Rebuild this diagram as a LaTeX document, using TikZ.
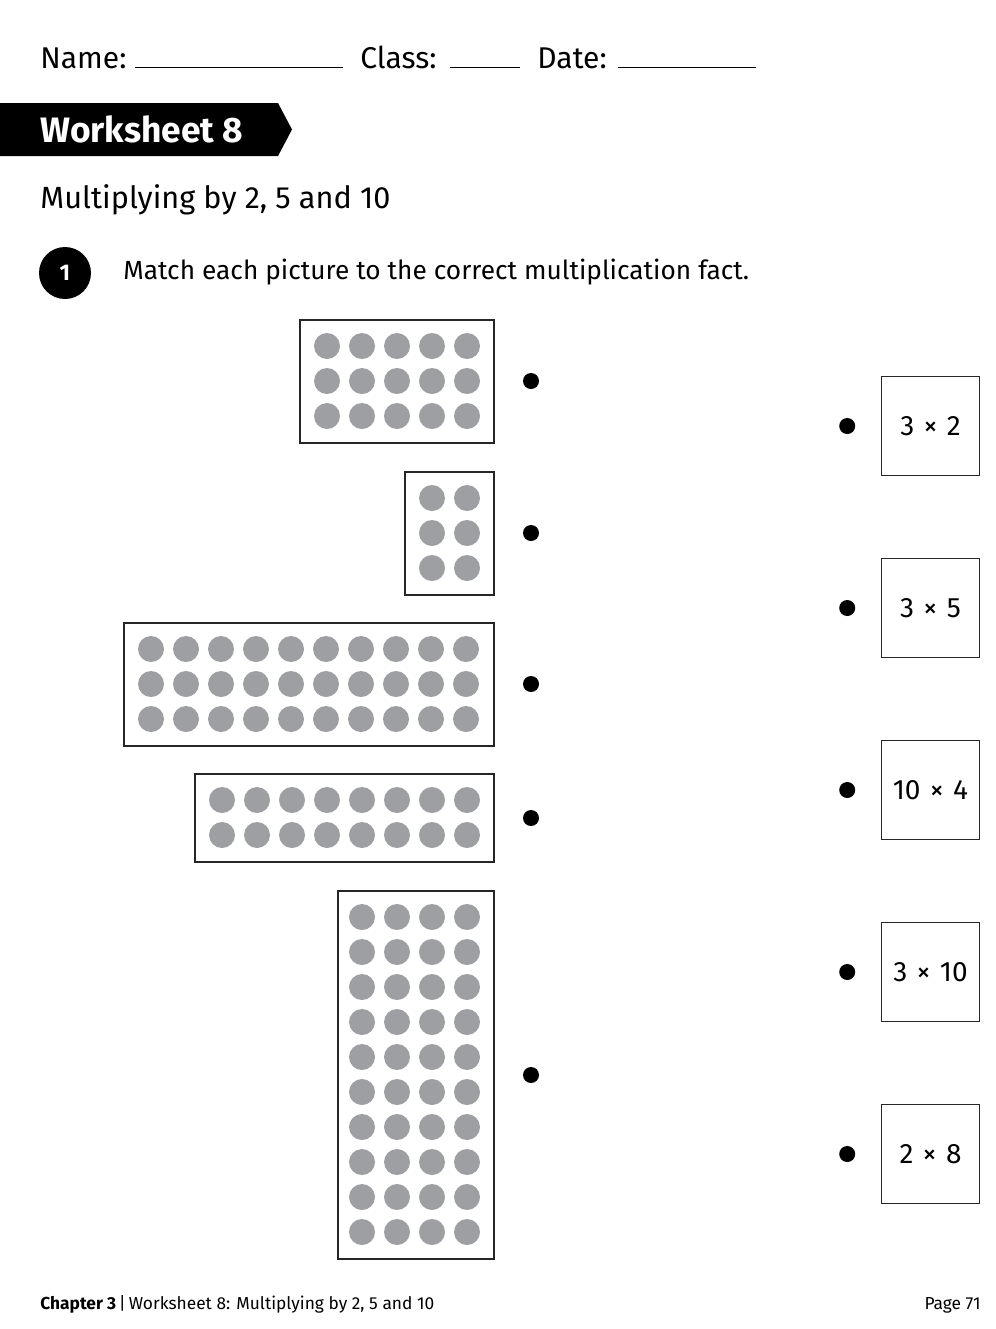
\documentclass[tikz,border=0pt]{standalone}
\usepackage{fontspec}
\setmainfont{Fira Sans}
\usepackage{tikz}
\usetikzlibrary{positioning}
\usetikzlibrary{shapes.misc}
\definecolor{dotgray}{RGB}{158,159,163}

\begin{document}
\begin{tikzpicture}[
            x = 0.75pt, y = -0.75pt, % one unit is one pixel of the page
            node distance = 136.5pt, % distance between fact boxes
            semithick % line style
        ]

        \tikzstyle{dot}=[circle, fill=dotgray, draw=none, minimum size=19.5pt, inner sep=0pt]
        \tikzstyle{blob}=[circle, fill=black, draw=none, minimum size=12pt, inner sep=0pt]
        \tikzstyle{frame}=[draw=black!85, thick]
        \tikzstyle{fact}=[draw=black!85, thick, minimum size=74pt, inner sep=0pt, font=\fontsize{21}{21}\selectfont]
        \tikzstyle{field}=[anchor=base west, inner sep=0pt, font=\fontsize{22.5}{22.5}\selectfont]

        \useasboundingbox (0,0) rectangle (996,1329);

        % header
        \node[field] (name) at (40,68) {Name:};
        \node[field] (class) at (360,68) {Class:};
        \node[field] (date) at (537,68) {Date:};
        \draw (135,67) -- (343,67);
        \draw (450,67) -- (520,67);
        \draw (618,67) -- (756,67);

        \fill (0,103) -- (278,103) -- (292,129.5) -- (278,156) -- (0,156) -- cycle;
        \node[anchor=west, inner sep=0pt, text=white, font=\fontsize{26.5}{26.5}\selectfont\bfseries] (title) at (40,129.5) {Worksheet 8};
        \node[anchor=west, inner sep=0pt, font=\fontsize{23}{23}\selectfont] (topic) at (40,200) {Multiplying by 2, 5 and 10};

        \node[circle, fill=black, minimum size=39pt, inner sep=0pt, text=white, font=\fontsize{17}{17}\selectfont\bfseries] (Q1) at (65,273) {1};
        \node[anchor=west, inner sep=0pt, font=\fontsize{19.7}{19.7}\selectfont] (task) at (123,272) {Match each picture to the correct multiplication fact.};

        % arrays of counters
        \foreach \fx/\fy/\nc/\nr/\m in {327/346/5/3/27, 432/498/2/3/27, 151/649/10/3/27, 222/800/8/2/27, 362/917/4/10/24} {
            \draw[frame] ({\fx-\m},{\fy-26}) rectangle (494,{\fy+35*\nr-8});
            \foreach \c in {1,...,\nc}
                \foreach \r in {1,...,\nr}
                    \node[dot] at ({\fx+35*\c-35},{\fy+35*\r-35}) {};
        }

        \node[blob] (P1) at (531,381) {};
        \node[blob] (P2) at (531,533) {};
        \node[blob] (P3) at (531,684) {};
        \node[blob] (P4) at (531,818) {};
        \node[blob] (P5) at (531,1075) {};

        % multiplication facts
        \node[fact] (F1) at (930.5,426) {3\,\,×\,\,2};
        \node[fact] (F2) [below of=F1] {3\,\,×\,\,5};
        \node[fact] (F3) [below of=F2] {10\,\,×\,\,4};
        \node[fact] (F4) [below of=F3] {3\,\,×\,\,10};
        \node[fact] (F5) [below of=F4] {2\,\,×\,\,8};

        \node[blob] (B1) [left=18.75pt of F1] {};
        \node[blob] (B2) [left=18.75pt of F2] {};
        \node[blob] (B3) [left=18.75pt of F3] {};
        \node[blob] (B4) [left=18.75pt of F4] {};
        \node[blob] (B5) [left=18.75pt of F5] {};

        % footer
        \node[anchor=base west, inner sep=0pt, font=\fontsize{13}{13}\selectfont] (foot) at (40,1309) {\textbf{Chapter 3}\,|\,Worksheet 8: Multiplying by 2, 5 and 10};
        \node[anchor=base east, inner sep=0pt, font=\fontsize{13}{13}\selectfont] (page) at (981,1309) {Page 71};

  \end{tikzpicture}
\end{document}
